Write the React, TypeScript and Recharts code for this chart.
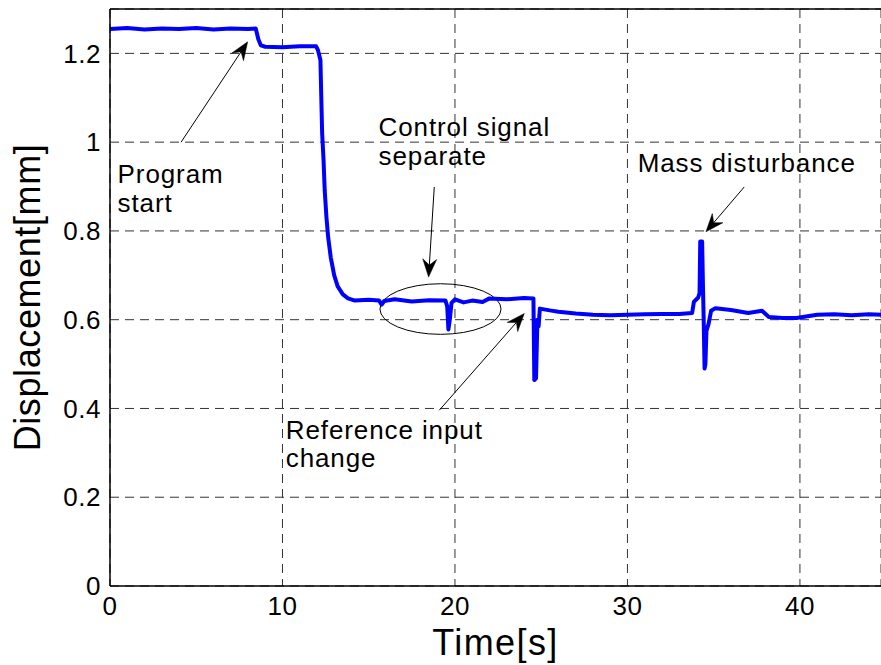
import React from 'react';
import {
  LineChart,
  Line,
  XAxis,
  YAxis,
  CartesianGrid,
  ReferenceLine,
  ReferenceDot,
  ReferenceArea,
  Label,
} from 'recharts';

// ---- data ----
const TIME = [
  0, 1, 2, 3, 4, 5, 6, 7, 8, 8.45, 8.6, 8.75, 9, 10, 11, 11.95, 12.05, 12.2, 12.25, 12.3,
  12.38, 12.45, 12.55, 12.65, 12.8, 13.0, 13.2, 13.5, 13.8, 14.2, 15, 15.6, 15.75, 15.9,
  16.5, 17.5, 18.5, 19.45, 19.55, 19.62, 19.7, 19.8, 20.0, 20.5, 21, 21.6, 22, 23, 24,
  24.55, 24.6, 24.7, 24.78, 24.85, 24.92, 25.5, 26, 27, 28, 29, 30, 31, 32, 33, 33.75,
  33.85, 34.1, 34.18, 34.22, 34.33, 34.38, 34.42, 34.47, 34.52, 34.58, 34.7, 34.85, 35.1,
  36, 37, 37.8, 38.2, 39, 39.8, 41, 42, 43, 44, 44.7,
];
const DISPLACEMENT = [
  1.255, 1.257, 1.254, 1.256, 1.255, 1.257, 1.254, 1.256, 1.255, 1.256, 1.232, 1.218, 1.215,
  1.214, 1.216, 1.216, 1.208, 1.185, 1.1, 1.02, 0.96, 0.89, 0.83, 0.785, 0.74, 0.7, 0.675,
  0.657, 0.648, 0.643, 0.645, 0.643, 0.634, 0.642, 0.646, 0.641, 0.644, 0.643, 0.63, 0.578,
  0.6, 0.638, 0.646, 0.639, 0.643, 0.64, 0.648, 0.646, 0.649, 0.648, 0.464, 0.468, 0.6,
  0.585, 0.625, 0.621, 0.618, 0.614, 0.611, 0.61, 0.611, 0.612, 0.613, 0.613, 0.615, 0.64,
  0.65, 0.66, 0.776, 0.776, 0.672, 0.6, 0.49, 0.5, 0.575, 0.59, 0.62, 0.626, 0.622, 0.615,
  0.62, 0.606, 0.604, 0.604, 0.611, 0.612, 0.61, 0.612, 0.611,
];
const X_TICKS = [0, 10, 20, 30, 40];
const Y_TICKS = [0, 0.2, 0.4, 0.6, 0.8, 1, 1.2];
const X_DOMAIN: [number, number] = [0, 44.7];
const Y_DOMAIN: [number, number] = [0, 1.3];

const X_TITLE = 'Time[s]';
const Y_TITLE = 'Displacement[mm]';

// annotation texts anchored in data coordinates
const NOTE_TEXTS = [
  { x: 0.44, y: 0.907, lines: ['Program', 'start'] },
  { x: 15.57, y: 1.013, lines: ['Control signal', 'separate'] },
  { x: 10.19, y: 0.332, lines: ['Reference input', 'change'] },
  { x: 30.59, y: 0.933, lines: ['Mass disturbance'] },
];
// arrows: from -> tip, in data coordinates
const NOTE_ARROWS = [
  { x1: 4.12, y1: 1.0, x2: 7.98, y2: 1.226 },
  { x1: 18.8, y1: 0.899, x2: 18.47, y2: 0.696 },
  { x1: 19.09, y1: 0.396, x2: 24.02, y2: 0.614 },
  { x1: 36.77, y1: 0.899, x2: 34.55, y2: 0.798 },
];
const NOTE_ELLIPSE = { x1: 15.65, x2: 22.67, y1: 0.567, y2: 0.681 };

const data = TIME.map((t, i) => ({ t, v: DISPLACEMENT[i] }));

const FONT = '"Liberation Sans", Arial, Helvetica, sans-serif';

const ArrowShape = (props: any) => {
  const { x1, y1, x2, y2 } = props;
  const dx = x2 - x1;
  const dy = y2 - y1;
  const len = Math.sqrt(dx * dx + dy * dy) || 1;
  const ux = dx / len;
  const uy = dy / len;
  const nx = -uy;
  const ny = ux;
  const L = 18;
  const W = 7;
  const N = 12;
  const bx = x2 - ux * L;
  const by = y2 - uy * L;
  const mx = x2 - ux * N;
  const my = y2 - uy * N;
  const pts = `${x2},${y2} ${bx + nx * W},${by + ny * W} ${mx},${my} ${bx - nx * W},${by - ny * W}`;
  return (
    <g>
      <line x1={x1} y1={y1} x2={mx} y2={my} stroke="#000" strokeWidth={1} />
      <polygon points={pts} fill="#000" stroke="#000" strokeWidth={0.5} />
    </g>
  );
};

const makeTextShape = (lines: string[]) => (props: any) => {
  const { cx, cy } = props;
  return (
    <text
      x={cx}
      y={cy}
      fill="#000"
      fontSize={26}
      fontFamily={FONT}
      letterSpacing={0.9}
      textAnchor="start"
    >
      {lines.map((l, i) => (
        <tspan key={i} x={cx} dy={i === 0 ? 0 : 28.5}>
          {l}
        </tspan>
      ))}
    </text>
  );
};

const EllipseShape = (props: any) => {
  const { x, y, width, height } = props;
  return (
    <ellipse
      cx={x + width / 2}
      cy={y + height / 2}
      rx={Math.abs(width) / 2}
      ry={Math.abs(height) / 2}
      fill="none"
      stroke="#000"
      strokeWidth={1}
    />
  );
};

const XTitle = (props: any) => {
  const vb = props.viewBox || {};
  return (
    <text
      x={vb.x + vb.width / 2}
      y={vb.y + 69}
      textAnchor="middle"
      fontSize={36}
      fontFamily={FONT}
      letterSpacing={1.4}
      fill="#000"
    >
      {X_TITLE}
    </text>
  );
};

const YTitle = (props: any) => {
  const vb = props.viewBox || {};
  const cx = 40;
  const cy = vb.y + vb.height / 2;
  return (
    <text
      x={cx}
      y={cy}
      transform={`rotate(-90, ${cx}, ${cy})`}
      textAnchor="middle"
      fontSize={36}
      fontFamily={FONT}
      letterSpacing={0.6}
      fill="#000"
    >
      {Y_TITLE}
    </text>
  );
};

export default function App() {
  return (
    <div style={{ position: 'absolute', left: 0, top: 0, width: 881, height: 665, background: '#fff' }}>
      <LineChart width={881} height={665} data={data} margin={{ top: 9, right: 0, bottom: 0, left: 0 }}>
        <CartesianGrid stroke="#333" strokeDasharray="9 6" strokeWidth={1} />
        <XAxis
          type="number"
          dataKey="t"
          domain={X_DOMAIN}
          ticks={X_TICKS}
          allowDataOverflow
          height={79}
          tickLine={false}
          tickSize={0}
          tickMargin={11}
          axisLine={{ stroke: '#000', strokeWidth: 1.5 }}
          tick={{ fill: '#000', fontSize: 26, fontFamily: FONT, letterSpacing: 0.5 }}
        >
          <Label content={<XTitle />} />
        </XAxis>
        <YAxis
          type="number"
          domain={Y_DOMAIN}
          ticks={Y_TICKS}
          allowDataOverflow
          width={110}
          tickLine={false}
          tickSize={0}
          tickMargin={9}
          axisLine={{ stroke: '#000', strokeWidth: 1.5 }}
          tick={{ fill: '#000', fontSize: 26, fontFamily: FONT, letterSpacing: 0.5 }}
        >
          <Label content={<YTitle />} />
        </YAxis>
        <ReferenceLine y={1.3} stroke="#000" strokeWidth={1.5} />
        <Line
          type="linear"
          dataKey="v"
          stroke="#0000ff"
          strokeWidth={4}
          strokeLinejoin="round"
          dot={false}
          isAnimationActive={false}
        />
        <ReferenceArea
          x1={NOTE_ELLIPSE.x1}
          x2={NOTE_ELLIPSE.x2}
          y1={NOTE_ELLIPSE.y1}
          y2={NOTE_ELLIPSE.y2}
          shape={<EllipseShape />}
          ifOverflow="visible"
        />
        {NOTE_ARROWS.map((a, i) => (
          <ReferenceLine
            key={`a${i}`}
            segment={[
              { x: a.x1, y: a.y1 },
              { x: a.x2, y: a.y2 },
            ]}
            shape={(p: any) => <ArrowShape {...p} />}
            ifOverflow="visible"
          />
        ))}
        {NOTE_TEXTS.map((n, i) => (
          <ReferenceDot
            key={`t${i}`}
            x={n.x}
            y={n.y}
            r={0}
            shape={makeTextShape(n.lines)}
            ifOverflow="visible"
          />
        ))}
      </LineChart>
    </div>
  );
}
